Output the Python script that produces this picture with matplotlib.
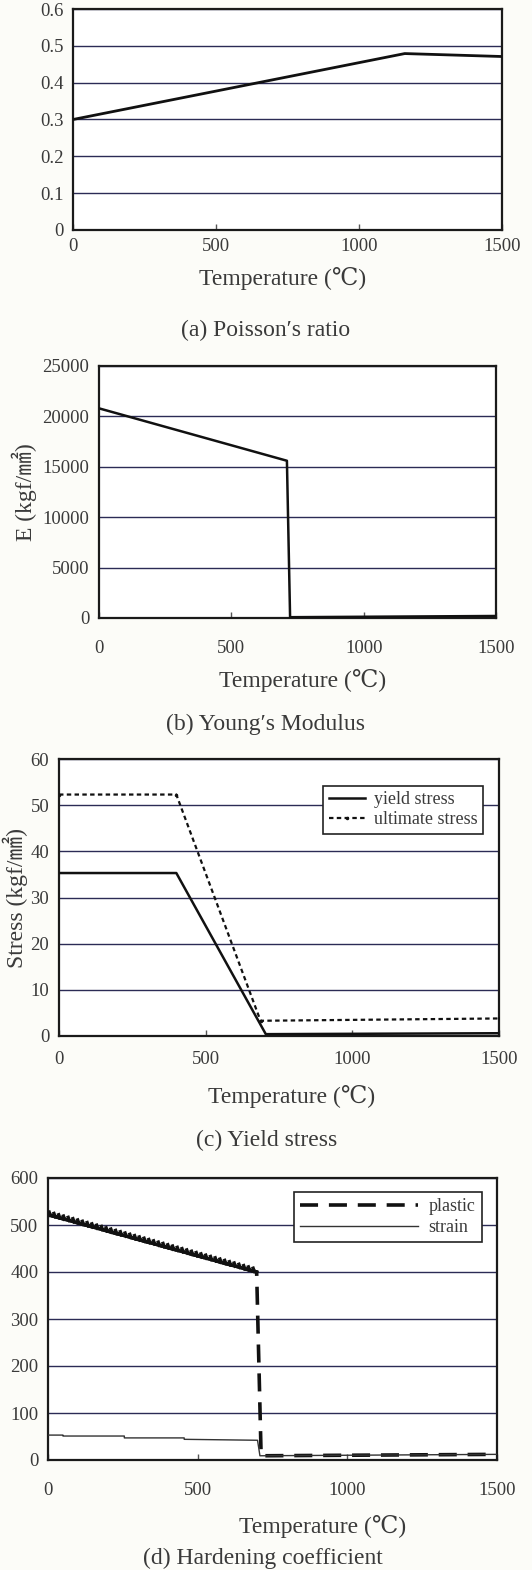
import matplotlib
matplotlib.use("Agg")
import matplotlib.pyplot as plt
import matplotlib.patheffects as pe

plt.rcParams['font.family'] = ['Liberation Serif', 'DejaVu Serif', 'Noto Sans CJK JP']

TXT = '#3a3a3a'
GRID = '#2b2b55'
BG = '#fcfcf8'

# ---- data ----
temp_ticks = [0, 500, 1000, 1500]

poisson_T = [0, 1160, 1500]
poisson_v = [0.30, 0.479, 0.471]
poisson_yticks = [0, 0.1, 0.2, 0.3, 0.4, 0.5, 0.6]
poisson_ylabels = ['0', '0.1', '0.2', '0.3', '0.4', '0.5', '0.6']

young_T = [0, 710, 722, 1500]
young_E = [20800, 15600, 80, 200]
young_yticks = [0, 5000, 10000, 15000, 20000, 25000]

yield_T = [0, 400, 705, 1500]
yield_s = [35.3, 35.3, 0.4, 0.6]
ult_T = [0, 400, 687, 1500]
ult_s = [52.3, 52.3, 3.3, 3.8]
stress_yticks = [0, 10, 20, 30, 40, 50, 60]

plastic_T = [0, 697, 712, 1500]
plastic_h = [522, 400, 9, 12]
strain_T = [0, 50, 50, 255, 255, 455, 455, 700, 708, 1500]
strain_h = [53, 53, 51, 51, 47, 47, 44, 42, 9, 12]
hard_yticks = [0, 100, 200, 300, 400, 500, 600]

W, H = 532, 1570
fig = plt.figure(figsize=(W / 100, H / 100), dpi=100, facecolor=BG)

TICK_FS = 13.5
LAB_FS = 17
CAP_FS = 17


def make_ax(l, r, t, b):
    ax = fig.add_axes([l / W, 1 - b / H, (r - l) / W, (b - t) / H])
    ax.set_facecolor('white')
    for s in ax.spines.values():
        s.set_linewidth(1.6)
        s.set_color('#1a1a1a')
    return ax


def style(ax, yticks, ylim, ylabels=None, xpad=8):
    ax.set_xlim(0, 1500)
    ax.set_ylim(*ylim)
    ax.set_xticks(temp_ticks)
    ax.set_yticks(yticks)
    if ylabels is not None:
        ax.set_yticklabels(ylabels)
    ax.tick_params(axis='x', direction='in', length=4, width=1, pad=xpad,
                   labelsize=TICK_FS, labelcolor=TXT, color='#555555')
    ax.tick_params(axis='y', length=0, pad=7, labelsize=TICK_FS, labelcolor=TXT)
    for y in yticks:
        ax.axhline(y, color=GRID, lw=1.0, zorder=1)


# (a) Poisson's ratio
ax = make_ax(73, 502, 9, 230)
style(ax, poisson_yticks, (0, 0.6), poisson_ylabels, xpad=6)
ax.plot(poisson_T, poisson_v, color='#111111', lw=2.0, zorder=3)
fig.text(283 / W, 1 - 279 / H, 'Temperature (℃)', ha='center', va='center', fontsize=LAB_FS, color=TXT)
fig.text(266 / W, 1 - 330 / H, "(a) Poisson′s ratio", ha='center', va='center', fontsize=CAP_FS, color=TXT)

# (b) Young's modulus
ax = make_ax(99, 496, 366, 618)
style(ax, young_yticks, (0, 25000), xpad=16)
ax.plot(young_T, young_E, color='#111111', lw=1.8, zorder=3)
ax.set_ylabel('E (kgf/㎟)', fontsize=LAB_FS, color=TXT, labelpad=4)
fig.text(303 / W, 1 - 680 / H, 'Temperature (℃)', ha='center', va='center', fontsize=LAB_FS, color=TXT)
fig.text(266 / W, 1 - 724 / H, "(b) Young′s Modulus", ha='center', va='center', fontsize=CAP_FS, color=TXT)

# (c) Yield stress
ax = make_ax(59, 499, 759, 1036)
style(ax, stress_yticks, (0, 60), xpad=11)
ax.plot(yield_T, yield_s, color='#111111', lw=1.8, zorder=3, label='yield stress')
ax.plot(ult_T, ult_s, color='#111111', lw=1.6, ls=(0, (2, 1.5)), marker='.', markersize=3,
        markevery=[0, 1, 2, 3], zorder=3, label='ultimate stress')
ax.set_ylabel('Stress (kgf/㎟)', fontsize=LAB_FS, color=TXT, labelpad=2)
leg = ax.legend(loc='upper right', bbox_to_anchor=(0.984, 0.935), fontsize=13,
                frameon=True, fancybox=False, edgecolor='#222222', framealpha=1,
                handlelength=2.0, borderpad=0.3, labelspacing=0.15, handletextpad=0.5)
leg.get_frame().set_linewidth(1.2)
for t in leg.get_texts():
    t.set_color(TXT)
fig.text(292 / W, 1 - 1097 / H, 'Temperature (℃)', ha='center', va='center', fontsize=LAB_FS, color=TXT)
fig.text(267 / W, 1 - 1140 / H, "(c) Yield stress", ha='center', va='center', fontsize=CAP_FS, color=TXT)

# (d) Hardening coefficient
ax = make_ax(48, 497, 1178, 1460)
style(ax, hard_yticks, (0, 600), xpad=16)
ax.plot(plastic_T, plastic_h, color='#111111', lw=2.6, ls=(0, (5, 3)), zorder=3, label='plastic')
ax.plot(plastic_T[:2], plastic_h[:2], color='#111111', lw=2.4, zorder=4,
        path_effects=[pe.withTickedStroke(angle=125, spacing=3.5, length=0.7), pe.Normal()])
ax.plot(strain_T, strain_h, color='#333333', lw=1.0, zorder=3, label='strain')
leg = ax.legend(loc='upper right', bbox_to_anchor=(0.966, 0.95), fontsize=13,
                frameon=True, fancybox=False, edgecolor='#222222', framealpha=1,
                handlelength=6.5, borderpad=0.35, labelspacing=0.2, handletextpad=0.6,
                borderaxespad=0)
leg.get_frame().set_linewidth(1.2)
for t in leg.get_texts():
    t.set_color(TXT)
fig.text(323 / W, 1 - 1527 / H, 'Temperature (℃)', ha='center', va='center', fontsize=LAB_FS, color=TXT)
fig.text(263 / W, 1 - 1558 / H, "(d) Hardening coefficient", ha='center', va='center', fontsize=CAP_FS, color=TXT)

fig.savefig('out.png', dpi=100, facecolor=BG)
